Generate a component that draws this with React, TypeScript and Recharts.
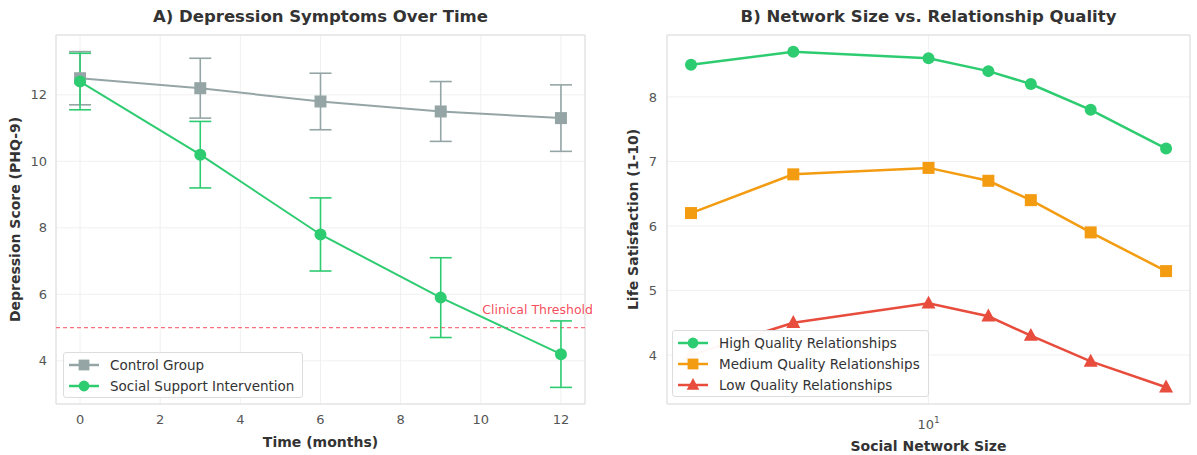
import React from 'react';
import {
  LineChart,
  Line,
  XAxis,
  YAxis,
  CartesianGrid,
  ErrorBar,
  ReferenceLine,
  ReferenceArea,
  Legend,
} from 'recharts';

// Panel A: depression scores over time
const months = [0, 3, 6, 9, 12];
const controlMean = [12.5, 12.2, 11.8, 11.5, 11.3];
const controlErr = [0.8, 0.9, 0.85, 0.9, 1.0];
const interventionMean = [12.4, 10.2, 7.8, 5.9, 4.2];
const interventionErr = [0.85, 1.0, 1.1, 1.2, 1.0];
const clinicalThreshold = 5;
const monthTicks = [0, 2, 4, 6, 8, 10, 12];
const scoreTicks = [4, 6, 8, 10, 12];

// Panel B: network size vs life satisfaction
const networkSize = [2, 4, 10, 15, 20, 30, 50];
const highQuality = [8.5, 8.7, 8.6, 8.4, 8.2, 7.8, 7.2];
const mediumQuality = [6.2, 6.8, 6.9, 6.7, 6.4, 5.9, 5.3];
const lowQuality = [4.0, 4.5, 4.8, 4.6, 4.3, 3.9, 3.5];
const sizeTicks = [10];
const satisfactionTicks = [4, 5, 6, 7, 8];

const GRAY = '#95a5a6';
const GREEN = '#2ecc71';
const ORANGE = '#f39c12';
const RED = '#e74c3c';
const THRESHOLD_RED = '#f5364a';
const FONT = '"DejaVu Sans", sans-serif';

type Shape = 'circle' | 'square' | 'triangle';

const seriesA = [
  { key: 'control', err: 'controlErr', name: 'Control Group', color: GRAY, shape: 'square' as Shape },
  { key: 'intervention', err: 'interventionErr', name: 'Social Support Intervention', color: GREEN, shape: 'circle' as Shape },
];

const seriesB = [
  { key: 'high', name: 'High Quality Relationships', color: GREEN, shape: 'circle' as Shape },
  { key: 'medium', name: 'Medium Quality Relationships', color: ORANGE, shape: 'square' as Shape },
  { key: 'low', name: 'Low Quality Relationships', color: RED, shape: 'triangle' as Shape },
];

const dataA = months.map((m, i) => ({
  month: m,
  control: controlMean[i],
  controlErr: controlErr[i],
  intervention: interventionMean[i],
  interventionErr: interventionErr[i],
}));

const dataB = networkSize.map((n, i) => ({
  size: n,
  high: highQuality[i],
  medium: mediumQuality[i],
  low: lowQuality[i],
}));

const Marker = ({ cx, cy, shape, color, size = 1 }: any) => {
  if (cx == null || cy == null) return null;
  if (shape === 'square') {
    const s = 6 * size;
    return <rect x={cx - s} y={cy - s} width={2 * s} height={2 * s} fill={color} />;
  }
  if (shape === 'triangle') {
    const s = 7 * size;
    return (
      <polygon
        points={`${cx},${cy - s * 1.1} ${cx - s},${cy + s * 0.75} ${cx + s},${cy + s * 0.75}`}
        fill={color}
      />
    );
  }
  return <circle cx={cx} cy={cy} r={6 * size} fill={color} />;
};

const makeDot = (shape: Shape, color: string) => (props: any) => (
  <Marker key={`dot-${props.index}`} cx={props.cx} cy={props.cy} shape={shape} color={color} />
);

const LegendBox = ({ items }: { items: { name: string; color: string; shape: Shape }[] }) => (
  <div
    style={{
      border: '1px solid #dddddd',
      borderRadius: 3,
      background: 'rgba(255,255,255,0.96)',
      padding: '1px 8px 1px 4px',
      fontFamily: FONT,
      fontSize: 13.5,
      color: '#333',
      whiteSpace: 'nowrap',
    }}
  >
    {items.map((it) => (
      <div key={it.name} style={{ display: 'flex', alignItems: 'center', height: 21 }}>
        <svg width={32} height={16} style={{ marginRight: 10 }}>
          <line x1={1} y1={8} x2={31} y2={8} stroke={it.color} strokeWidth={2.5} />
          <Marker cx={16} cy={8} shape={it.shape} color={it.color} size={0.9} />
        </svg>
        <span>{it.name}</span>
      </div>
    ))}
  </div>
);

const ThresholdLabel = ({ viewBox }: any) => {
  if (!viewBox) return null;
  return (
    <text
      x={viewBox.x + viewBox.width + 8}
      y={viewBox.y - 14}
      textAnchor="end"
      fill={THRESHOLD_RED}
      fillOpacity={0.9}
      fontSize={12.5}
      fontFamily={FONT}
    >
      Clinical Threshold
    </text>
  );
};

const SuperTick = ({ x, y, payload }: any) => (
  <text x={x} y={y} textAnchor="middle" fill="#555" fontSize={13} fontFamily={FONT}>
    <tspan dy={13}>{Math.round(Math.log10(payload.value)) === 1 ? '10' : payload.value}</tspan>
    <tspan dy={-6} fontSize={9}>1</tspan>
  </text>
);

const tickStyle = { fill: '#555', fontSize: 13, fontFamily: FONT };
const axisLabelStyle = { fill: '#333', fontSize: 14, fontWeight: 'bold', fontFamily: FONT };
const titleStyle: React.CSSProperties = {
  position: 'absolute',
  top: 7,
  fontFamily: FONT,
  fontSize: 16.5,
  fontWeight: 'bold',
  color: '#333',
  textAlign: 'center',
};

const App: React.FC = () => {
  return (
    <div style={{ position: 'absolute', left: 0, top: 0, width: 1197, height: 455, background: '#fff' }}>
      <div style={{ ...titleStyle, left: 56, width: 529 }}>A) Depression Symptoms Over Time</div>
      <div style={{ ...titleStyle, left: 667, width: 523 }}>B) Network Size vs. Relationship Quality</div>

      <div style={{ position: 'absolute', left: 0, top: 0 }}>
        <LineChart width={600} height={455} data={dataA} margin={{ top: 35, right: 15, bottom: 0, left: 0 }}>
          <CartesianGrid stroke="#ececec" strokeWidth={0.8} />
          <XAxis
            dataKey="month"
            type="number"
            domain={[-0.6, 12.6]}
            ticks={monthTicks}
            allowDataOverflow
            height={51}
            tickLine={false}
            axisLine={false}
            tickSize={0}
            tickMargin={11}
            tick={tickStyle}
            label={{ value: 'Time (months)', position: 'insideBottom', offset: 8, style: axisLabelStyle }}
          />
          <YAxis
            type="number"
            domain={[2.7, 13.8]}
            ticks={scoreTicks}
            allowDataOverflow
            width={56}
            tickLine={false}
            axisLine={false}
            tickSize={0}
            tickMargin={9}
            tick={tickStyle}
            label={{
              value: 'Depression Score (PHQ-9)',
              angle: -90,
              position: 'insideLeft',
              offset: 15,
              style: { ...axisLabelStyle, textAnchor: 'middle' },
            }}
          />
          <ReferenceArea x1={-0.6} x2={12.6} y1={2.7} y2={13.8} fill="none" stroke="#dddddd" strokeWidth={1} />
          <ReferenceLine
            y={clinicalThreshold}
            stroke={THRESHOLD_RED}
            strokeOpacity={1}
            strokeDasharray="4 3"
            strokeWidth={1.3}
            style={{ stroke: '#ff6f7d' }}
            label={<ThresholdLabel />}
          />
          {seriesA.map((s) => (
            <Line
              key={s.key}
              dataKey={s.key}
              name={s.name}
              stroke={s.color}
              strokeWidth={2}
              dot={makeDot(s.shape, s.color)}
              activeDot={false}
              isAnimationActive={false}
            >
              <ErrorBar dataKey={s.err} width={11} strokeWidth={1.6} stroke={s.color} direction="y" />
            </Line>
          ))}
          <Legend
            layout="vertical"
            align="center"
            verticalAlign="middle"
            wrapperStyle={{ left: 63, top: 352, width: 'auto' }}
            content={() => <LegendBox items={seriesA} />}
          />
        </LineChart>
      </div>

      <div style={{ position: 'absolute', left: 600, top: 0 }}>
        <LineChart width={597} height={455} data={dataB} margin={{ top: 35, right: 7, bottom: 0, left: 0 }}>
          <CartesianGrid stroke="#ececec" strokeWidth={0.8} />
          <XAxis
            dataKey="size"
            type="number"
            scale="log"
            domain={[1.7, 58.8]}
            ticks={sizeTicks}
            allowDataOverflow
            height={51}
            tickLine={false}
            axisLine={false}
            tickSize={0}
            tickMargin={12}
            tick={<SuperTick />}
            label={{ value: 'Social Network Size', position: 'insideBottom', offset: 4, style: axisLabelStyle }}
          />
          <YAxis
            type="number"
            domain={[3.24, 8.96]}
            ticks={satisfactionTicks}
            allowDataOverflow
            width={67}
            tickLine={false}
            axisLine={false}
            tickSize={0}
            tickMargin={10}
            tick={tickStyle}
            label={{
              value: 'Life Satisfaction (1-10)',
              angle: -90,
              position: 'insideLeft',
              offset: 33,
              style: { ...axisLabelStyle, textAnchor: 'middle' },
            }}
          />
          <ReferenceArea x1={1.7} x2={58.8} y1={3.24} y2={8.96} fill="none" stroke="#dddddd" strokeWidth={1} />
          {seriesB.map((s) => (
            <Line
              key={s.key}
              dataKey={s.key}
              name={s.name}
              stroke={s.color}
              strokeWidth={2.5}
              dot={makeDot(s.shape, s.color)}
              activeDot={false}
              isAnimationActive={false}
            />
          ))}
          <Legend
            layout="vertical"
            align="center"
            verticalAlign="middle"
            wrapperStyle={{ left: 72, top: 330, width: 'auto' }}
            content={() => <LegendBox items={seriesB} />}
          />
        </LineChart>
      </div>
    </div>
  );
};

export default App;
